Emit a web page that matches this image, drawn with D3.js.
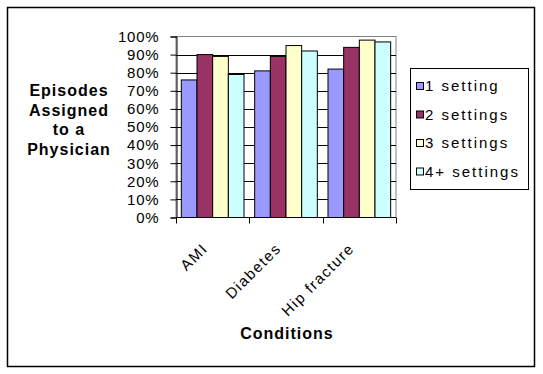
<!DOCTYPE html>
<html>
<head>
<meta charset="utf-8">
<script src="https://cdn.jsdelivr.net/npm/d3@7"></script>
<style>
  body { margin: 0; background: #fff; }
  svg { display: block; font-family: Arial, "Liberation Sans", sans-serif; }
</style>
</head>
<body>
<svg id="chart" width="543" height="374"></svg>
<script>
// data
var conditions = ["AMI", "Diabetes", "Hip fracture"];
var seriesNames = ["1 setting", "2 settings", "3 settings", "4+ settings"];
var oneSetting = [0.76, 0.81, 0.82];
var twoSettings = [0.90, 0.89, 0.94];
var threeSettings = [0.89, 0.95, 0.98];
var fourPlusSettings = [0.79, 0.92, 0.97];
var yTicks = [0, 0.1, 0.2, 0.3, 0.4, 0.5, 0.6, 0.7, 0.8, 0.9, 1.0];

var seriesValues = [oneSetting, twoSettings, threeSettings, fourPlusSettings];
var colors = ["#9999FF", "#993366", "#FFFFCC", "#CCFFFF"];

var svg = d3.select("#chart");

// outer chart border
svg.append("rect")
  .attr("x", 7.5).attr("y", 7.5)
  .attr("width", 527).attr("height", 359)
  .attr("fill", "none").attr("stroke", "#000").attr("stroke-width", 1.5);

var plot = { left: 176, right: 396, top: 36.5, bottom: 217.5 };

var x = d3.scaleBand()
  .domain(conditions)
  .range([plot.left, plot.right])
  .paddingInner(0)
  .paddingOuter(0);

var xInner = d3.scaleBand()
  .domain(seriesNames)
  .range([0, x.bandwidth()])
  .paddingOuter(0.34)
  .paddingInner(0);

var y = d3.scaleLinear()
  .domain([0, 1])
  .range([plot.bottom, plot.top]);

// plot area frame (gray)
svg.append("rect")
  .attr("x", plot.left).attr("y", plot.top)
  .attr("width", plot.right - plot.left).attr("height", plot.bottom - plot.top)
  .attr("fill", "#fff").attr("stroke", "#808080").attr("stroke-width", 1);

// gridlines
svg.append("g")
  .selectAll("line")
  .data(yTicks.slice(1, -1))
  .join("line")
  .attr("x1", plot.left).attr("x2", plot.right)
  .attr("y1", function(d) { return Math.round(y(d)) + 0.5; })
  .attr("y2", function(d) { return Math.round(y(d)) + 0.5; })
  .attr("stroke", "#000");

// bars
var groups = svg.append("g")
  .selectAll("g")
  .data(seriesNames)
  .join("g")
  .attr("fill", function(d, i) { return colors[i]; });

groups.selectAll("rect")
  .data(function(name, i) {
    return conditions.map(function(c, j) { return { cond: c, name: name, value: seriesValues[i][j] }; });
  })
  .join("rect")
  .attr("x", function(d) { return x(d.cond) + xInner(d.name); })
  .attr("width", xInner.bandwidth())
  .attr("y", function(d) { return y(d.value); })
  .attr("height", function(d) { return y(0) - y(d.value); })
  .attr("stroke", "#000")
  .attr("stroke-width", 1);

// y axis
var yAxis = d3.axisLeft(y)
  .tickValues(yTicks)
  .tickSize(6)
  .tickPadding(11)
  .tickFormat(d3.format(".0%"));

var yg = svg.append("g")
  .attr("transform", "translate(" + (plot.left + 0.5) + ",0)")
  .call(yAxis);
yg.select(".domain").attr("stroke", "#000");
yg.selectAll(".tick line").attr("stroke", "#000");
yg.selectAll("text")
  .attr("font-size", 15)
  .attr("letter-spacing", 0.8)
  .attr("fill", "#000");

// x axis
var xAxisLine = svg.append("g");
xAxisLine.append("line")
  .attr("x1", plot.left).attr("x2", plot.right)
  .attr("y1", plot.bottom).attr("y2", plot.bottom)
  .attr("stroke", "#000");
xAxisLine.selectAll("line.tk")
  .data(conditions.concat(["end"]))
  .join("line")
  .attr("class", "tk")
  .attr("x1", function(d, i) { return Math.round(plot.left + i * x.step()) + 0.5; })
  .attr("x2", function(d, i) { return Math.round(plot.left + i * x.step()) + 0.5; })
  .attr("y1", plot.bottom).attr("y2", plot.bottom + 6)
  .attr("stroke", "#000");

svg.append("g")
  .selectAll("text")
  .data(conditions)
  .join("text")
  .attr("transform", function(d) {
    return "translate(" + (x(d) + x.bandwidth() / 2 - 4) + "," + (plot.bottom + 32) + ") rotate(-45)";
  })
  .attr("text-anchor", "end")
  .attr("font-size", 15)
  .attr("letter-spacing", 1.5)
  .text(function(d) { return d; });

// axis titles
var yTitle = ["Episodes", "Assigned", "to a", "Physician"];
svg.append("text")
  .attr("text-anchor", "middle")
  .attr("font-size", 16)
  .attr("font-weight", "bold")
  .attr("letter-spacing", 1)
  .selectAll("tspan")
  .data(yTitle)
  .join("tspan")
  .attr("x", 69)
  .attr("y", function(d, i) { return 96 + i * 19.7; })
  .text(function(d) { return d; });

svg.append("text")
  .attr("x", 287).attr("y", 339)
  .attr("text-anchor", "middle")
  .attr("font-size", 16)
  .attr("font-weight", "bold")
  .attr("letter-spacing", 1)
  .text("Conditions");

// legend
var legend = svg.append("g");
legend.append("rect")
  .attr("x", 410.5).attr("y", 68.5)
  .attr("width", 118).attr("height", 121)
  .attr("fill", "#fff").attr("stroke", "#000");

var items = legend.selectAll("g.item")
  .data(seriesNames)
  .join("g")
  .attr("class", "item")
  .attr("transform", function(d, i) { return "translate(0," + (86 + i * 28.5) + ")"; });

items.append("rect")
  .attr("x", 416.5).attr("y", -3.5)
  .attr("width", 7).attr("height", 7)
  .attr("fill", function(d, i) { return colors[i]; })
  .attr("stroke", "#000");

items.append("text")
  .attr("x", 425).attr("y", 0)
  .attr("dy", "0.36em")
  .attr("font-size", 15)
  .attr("letter-spacing", 2)
  .text(function(d) { return d; });
</script>
</body>
</html>
